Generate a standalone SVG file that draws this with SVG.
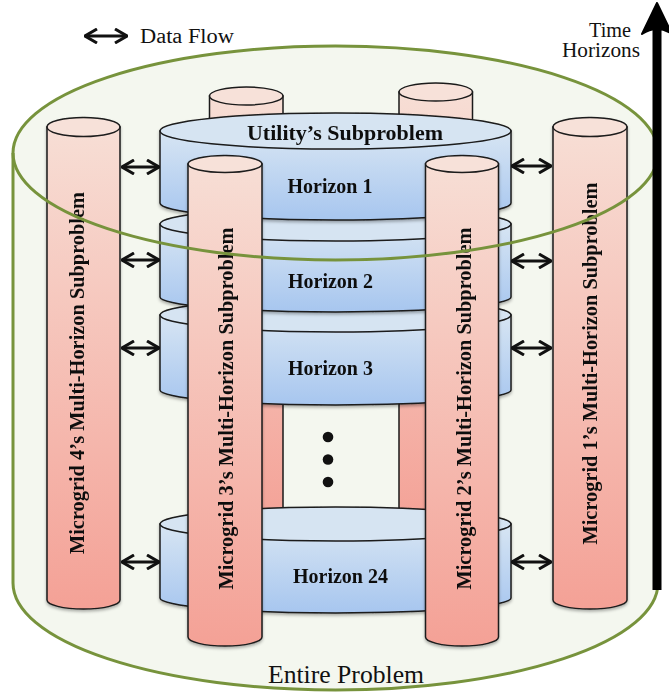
<svg xmlns="http://www.w3.org/2000/svg" width="669" height="694" viewBox="0 0 669 694">
  <defs>
    <linearGradient id="pink" x1="0" y1="0" x2="0" y2="1">
      <stop offset="0" stop-color="#f7ded5"/>
      <stop offset="1" stop-color="#f4a196"/>
    </linearGradient>
    <linearGradient id="blue" x1="0" y1="0" x2="0" y2="1">
      <stop offset="0" stop-color="#d7e5f3"/>
      <stop offset="1" stop-color="#a7c6ef"/>
    </linearGradient>
    <filter id="sh" x="-20%" y="-5%" width="140%" height="115%">
      <feDropShadow dx="0" dy="2" stdDeviation="1.5" flood-color="#000" flood-opacity="0.3"/>
    </filter>
    <marker id="ah" viewBox="0 0 14 16" refX="13" refY="8" markerWidth="14" markerHeight="16" markerUnits="userSpaceOnUse" orient="auto-start-reverse">
      <path d="M1,1 L13,8 L1,15" fill="none" stroke="#111" stroke-width="3"/>
    </marker>
    <style>
      .body-p { fill: url(#pink); stroke: #1a1a1a; stroke-width: 1.5; }
      .cap-p { fill: #f7e1d9; stroke: #1a1a1a; stroke-width: 1.5; }
      .body-b { fill: url(#blue); stroke: #1a1a1a; stroke-width: 1.5; }
      .cap-b { fill: #d6e4f2; stroke: #1a1a1a; stroke-width: 1.5; }
      .green { fill: none; stroke: #77933c; stroke-width: 3; }
      .flow { fill: none; stroke: #111; stroke-width: 2.8; marker-start: url(#ah); marker-end: url(#ah); }
      .lbl { font-family: "Liberation Serif", "Times New Roman", serif; font-weight: bold; font-size: 22px; fill: #111; text-anchor: middle; }
      .reg { font-family: "Liberation Serif", "Times New Roman", serif; fill: #111; }
    </style>
  </defs>

  <!-- Entire problem (outer cylinder) -->
  <g id="entire-problem">
    <path d="M13,153 A322.5,107 0 0 1 658,153 V583 A322.5,107 0 0 1 13,583 Z" fill="#f4f7ef"/>
    <path class="green" d="M13,153 V583 A322.5,107 0 0 0 658,583 V153"/>
    <text class="reg" x="346" y="683" font-size="25" text-anchor="middle" textLength="156" lengthAdjust="spacingAndGlyphs">Entire Problem</text>
  </g>

  <!-- back pillars -->
  <g id="back-pillar-left">
    <path class="body-p" d="M209.5,96 V530 H283 V96 Z"/>
    <ellipse class="cap-p" cx="246.25" cy="96" rx="36.75" ry="9"/>
  </g>
  <g id="back-pillar-right">
    <path class="body-p" d="M399,92 V530 H472.5 V92 Z"/>
    <ellipse class="cap-p" cx="435.75" cy="92" rx="36.75" ry="9"/>
  </g>

  <!-- horizons -->
  <g id="horizon-24" filter="url(#sh)">
    <path class="body-b" d="M160,524 V598 A175.5,15 0 0 0 511,598 V524 Z"/>
    <ellipse class="cap-b" cx="335.5" cy="524" rx="175.5" ry="17"/>
    <text class="lbl" x="340.5" y="583" textLength="95" lengthAdjust="spacingAndGlyphs">Horizon 24</text>
  </g>
  <g id="horizon-3" filter="url(#sh)">
    <path class="body-b" d="M160,315 V390 A175.5,15 0 0 0 511,390 V315 Z"/>
    <ellipse class="cap-b" cx="335.5" cy="315" rx="175.5" ry="17"/>
    <text class="lbl" x="330.5" y="375" textLength="85" lengthAdjust="spacingAndGlyphs">Horizon 3</text>
  </g>
  <g id="horizon-2" filter="url(#sh)">
    <path class="body-b" d="M160,224 V297 A175.5,15 0 0 0 511,297 V224 Z"/>
    <ellipse class="cap-b" cx="335.5" cy="224" rx="175.5" ry="17"/>
    <text class="lbl" x="330.5" y="288" textLength="85" lengthAdjust="spacingAndGlyphs">Horizon 2</text>
  </g>
  <g id="horizon-1" filter="url(#sh)">
    <path class="body-b" d="M160,131 V203 A175.5,17 0 0 0 511,203 V131 Z"/>
    <ellipse class="cap-b" cx="335.5" cy="131" rx="175.5" ry="18"/>
    <text class="lbl" x="345" y="140" textLength="196" lengthAdjust="spacingAndGlyphs">Utility’s Subproblem</text>
    <text class="lbl" x="330" y="193" textLength="85" lengthAdjust="spacingAndGlyphs">Horizon 1</text>
  </g>

  <!-- ellipsis dots -->
  <g id="dots" fill="#111">
    <circle cx="328" cy="437" r="5.3"/>
    <circle cx="328" cy="459.5" r="5.3"/>
    <circle cx="328" cy="482" r="5.3"/>
  </g>

  <!-- microgrid columns -->
  <g id="microgrid-4" filter="url(#sh)">
    <path class="body-p" d="M47,127 V600 A36.5,9 0 0 0 120,600 V127 Z"/>
    <ellipse class="cap-p" cx="83.5" cy="127" rx="36.5" ry="9.5"/>
    <text class="lbl" transform="translate(84,373) rotate(-90)" textLength="362" lengthAdjust="spacingAndGlyphs">Microgrid 4’s Multi-Horizon Subproblem</text>
  </g>
  <g id="microgrid-1" filter="url(#sh)">
    <path class="body-p" d="M553,127 V600 A37,9 0 0 0 627,600 V127 Z"/>
    <ellipse class="cap-p" cx="590" cy="127" rx="37" ry="9.5"/>
    <text class="lbl" transform="translate(597,363.5) rotate(-90)" textLength="362" lengthAdjust="spacingAndGlyphs">Microgrid 1’s Multi-Horizon Subproblem</text>
  </g>
  <g id="microgrid-3" filter="url(#sh)">
    <path class="body-p" d="M188,164 V637 A37,9 0 0 0 262,637 V164 Z"/>
    <ellipse class="cap-p" cx="225" cy="164" rx="37" ry="8.5"/>
    <text class="lbl" transform="translate(233,408.5) rotate(-90)" textLength="362" lengthAdjust="spacingAndGlyphs">Microgrid 3’s Multi-Horizon Subproblem</text>
  </g>
  <g id="microgrid-2" filter="url(#sh)">
    <path class="body-p" d="M425.5,164 V637 A36.5,9 0 0 0 498.5,637 V164 Z"/>
    <ellipse class="cap-p" cx="462" cy="164" rx="36.5" ry="8.5"/>
    <text class="lbl" transform="translate(471,408.5) rotate(-90)" textLength="362" lengthAdjust="spacingAndGlyphs">Microgrid 2’s Multi-Horizon Subproblem</text>
  </g>

  <!-- connectors -->
  <g id="connectors">
    <path class="flow" d="M122,167 H159"/>
    <path class="flow" d="M122,260 H159"/>
    <path class="flow" d="M122,348 H159"/>
    <path class="flow" d="M122,562 H159"/>
    <path class="flow" d="M512,166 H551"/>
    <path class="flow" d="M512,261 H551"/>
    <path class="flow" d="M512,348 H551"/>
    <path class="flow" d="M512,562 H551"/>
  </g>

  <!-- top rim of the entire problem cylinder -->
  <ellipse id="entire-problem-rim" class="green" cx="335.5" cy="153" rx="322.5" ry="107"/>

  <!-- legend -->
  <g id="legend">
    <path class="flow" d="M85,36 H127"/>
    <text class="reg" x="140" y="43" font-size="20" textLength="94" lengthAdjust="spacingAndGlyphs">Data Flow</text>
  </g>

  <!-- time axis -->
  <g id="time-axis">
    <path d="M657,590 V28" stroke="#000" stroke-width="9" fill="none"/>
    <path d="M657,3 L642,34 Q657,24 672,34 Z" fill="#000" stroke="#000" stroke-width="2" stroke-linejoin="round"/>
    <text class="reg" x="631" y="37" font-size="20" text-anchor="end" textLength="42" lengthAdjust="spacingAndGlyphs">Time</text>
    <text class="reg" x="640" y="57" font-size="20" text-anchor="end" textLength="78" lengthAdjust="spacingAndGlyphs">Horizons</text>
  </g>
</svg>
